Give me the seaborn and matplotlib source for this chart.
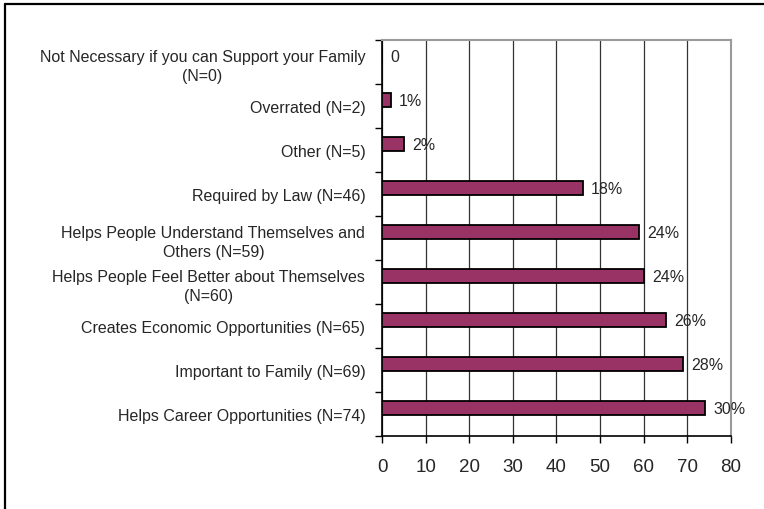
import matplotlib
matplotlib.use("Agg")
import matplotlib.pyplot as plt
from matplotlib.lines import Line2D
import seaborn as sns
import pandas as pd

categories = [
    "Not Necessary if you can Support your Family\n(N=0)",
    "Overrated (N=2)",
    "Other (N=5)",
    "Required by Law (N=46)",
    "Helps People Understand Themselves and\nOthers (N=59)",
    "Helps People Feel Better about Themselves\n(N=60)",
    "Creates Economic Opportunities (N=65)",
    "Important to Family (N=69)",
    "Helps Career Opportunities (N=74)",
]
counts = [0, 2, 5, 46, 59, 60, 65, 69, 74]
pct_labels = ["0", "1%", "2%", "18%", "24%", "24%", "26%", "28%", "30%"]
x_ticks = [0, 10, 20, 30, 40, 50, 60, 70, 80]

sns.set_theme(style="white")
plt.rcParams["font.family"] = ["Liberation Sans", "DejaVu Sans"]

df = pd.DataFrame({"reason": categories, "n": counts})

fig = plt.figure(figsize=(7.64, 5.10), dpi=100)
ax = fig.add_axes([0.5, 0.1431, 0.4568, 0.7765])

sns.barplot(data=df, y="reason", x="n", orient="h", order=categories,
            color="#993366", saturation=1, width=0.3,
            edgecolor="black", linewidth=1.3, ax=ax, zorder=3)

# bars sit slightly above the middle of each category band
shift = 0.136
ax.set_ylim(len(categories) - 0.5 + shift, -0.5 + shift)
ax.set_xlim(0, 80)

# band boundaries carry the tick marks; names sit at band centres
ax.set_yticks([i - 0.5 + shift for i in range(len(categories) + 1)])
ax.set_yticklabels([])
ax.set_yticks([i + shift for i in range(len(categories))], minor=True)
ax.set_yticklabels(categories, minor=True, fontsize=11.5,
                   multialignment="center", linespacing=1.35)
ax.tick_params(axis="y", which="major", left=True, length=5, width=1, color="black")
ax.tick_params(axis="y", which="minor", left=False, length=0, pad=12)

ax.set_xticks(x_ticks)
ax.set_xticklabels([str(t) for t in x_ticks], fontsize=13.5)
ax.tick_params(axis="x", bottom=True, length=5, width=1, color="black", pad=11)

ax.xaxis.grid(True, color="#333333", linewidth=0.9)
ax.set_axisbelow(True)
ax.set_xlabel("")
ax.set_ylabel("")

for side in ("left", "bottom"):
    ax.spines[side].set_color("black")
    ax.spines[side].set_linewidth(1.2)
for side in ("top", "right"):
    ax.spines[side].set_color("#9a9a9a")
    ax.spines[side].set_linewidth(1.5)

for i, (v, lab) in enumerate(zip(counts, pct_labels)):
    ax.annotate(lab, xy=(v, i), xytext=(6, 0), textcoords="offset points",
                ha="left", va="center", fontsize=11.5, zorder=4)

# outer chart frame
fig.add_artist(Line2D([5 / 764, 5 / 764], [0, 1 - 5 / 510], transform=fig.transFigure,
                      color="black", linewidth=1.6))
fig.add_artist(Line2D([5 / 764, 1], [1 - 5 / 510, 1 - 5 / 510], transform=fig.transFigure,
                      color="black", linewidth=1.6))

fig.savefig("out.png", dpi=100)
